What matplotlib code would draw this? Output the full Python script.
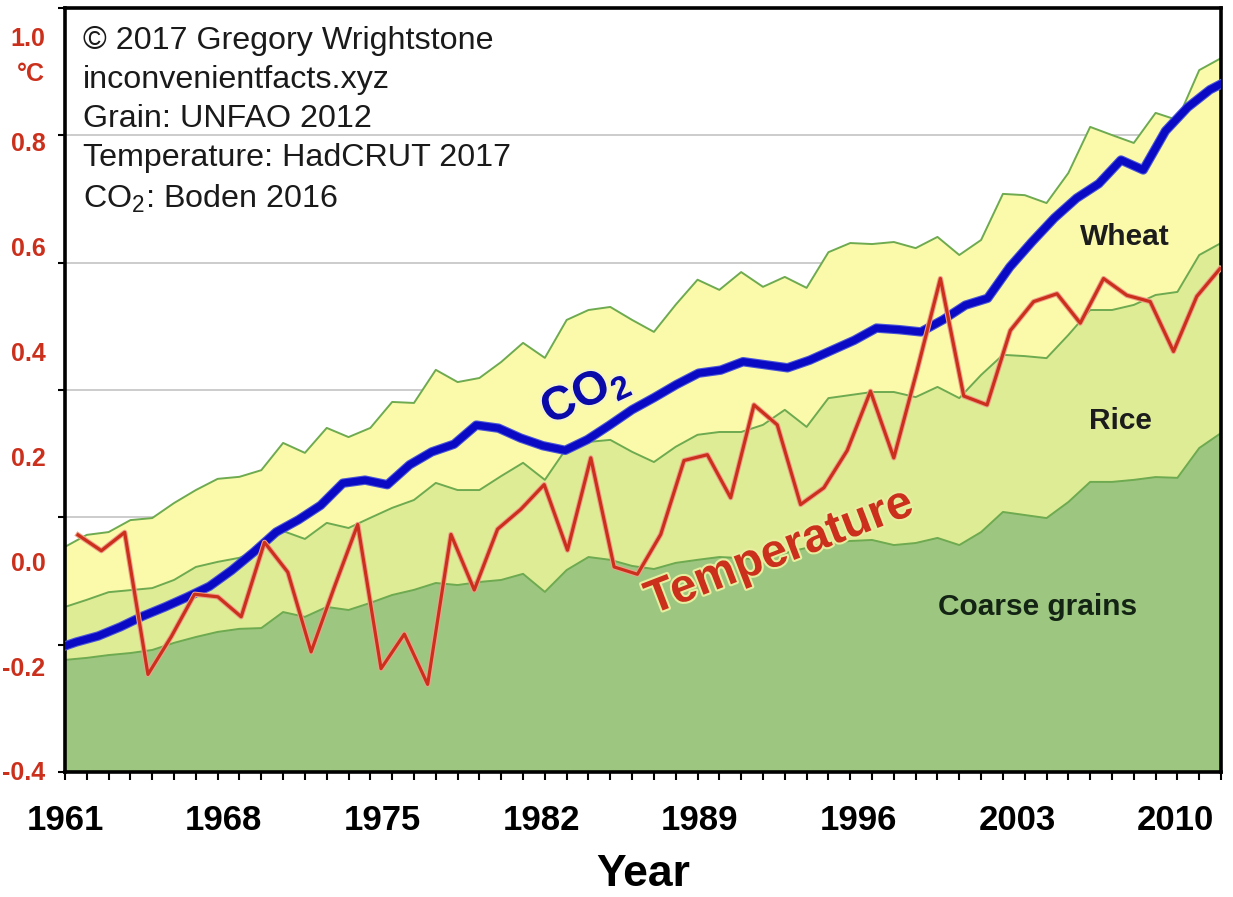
"""Grain production stacked with temperature and CO2, 1961-2012 (recreation)."""
import matplotlib

matplotlib.use("Agg")
import matplotlib.pyplot as plt
import matplotlib.patheffects as pe
from matplotlib.ticker import MultipleLocator
import numpy as np

plt.rcParams["font.family"] = ["Liberation Sans", "DejaVu Sans"]
plt.rcParams["mathtext.fontset"] = "custom"
plt.rcParams["mathtext.rm"] = "Liberation Sans"
plt.rcParams["mathtext.bf"] = "Liberation Sans:bold"

# ---- data ----
# grain production, Mt, one point per category on the tick marks
grain_years = np.arange(1961, 2015)
coarse = [440, 448, 459, 467, 479, 507, 530, 550, 562, 565,
          628, 609, 648, 636, 664, 695, 715, 742, 734, 746,
          754, 778, 707, 793, 844, 833, 809, 797, 821, 833,
          844, 840, 833, 860, 880, 899, 907, 911, 891, 899,
          919, 891, 942, 1021, 1009, 997, 1060, 1139, 1139, 1147,
          1158, 1155, 1272, 1331]
rice = [208, 228, 247, 247, 243, 247, 275, 275, 279, 314,
        318, 306, 330, 322, 334, 342, 353, 393, 373, 361,
        408, 436, 440, 479, 452, 471, 448, 420, 456, 491,
        491, 495, 530, 562, 475, 569, 573, 581, 601, 573,
        593, 577, 617, 617, 624, 628, 656, 675, 675, 687,
        715, 730, 758, 746]
wheat = [236, 255, 236, 275, 275, 302, 302, 326, 318, 306,
         346, 338, 373, 357, 353, 416, 381, 444, 424, 440,
         448, 471, 479, 503, 518, 522, 518, 511, 558, 609,
         558, 628, 542, 522, 546, 573, 597, 581, 589, 585,
         589, 562, 530, 632, 632, 609, 636, 719, 687, 636,
         715, 675, 726, 726]

# HadCRUT temperature anomaly, degC
temp_years = np.arange(1961, 2011)
temp = [0.05, 0.02, 0.055, -0.216, -0.144, -0.063, -0.068, -0.106, 0.036, -0.021,
        -0.173, -0.049, 0.070, -0.205, -0.139, -0.235, 0.051, -0.055, 0.061, 0.099,
        0.146, 0.021, 0.197, -0.011, -0.025, 0.051, 0.192, 0.203, 0.121, 0.298,
        0.260, 0.108, 0.140, 0.211, 0.324, 0.197, 0.364, 0.539, 0.315, 0.298,
        0.440, 0.495, 0.510, 0.454, 0.539, 0.507, 0.495, 0.400, 0.505, 0.558]

# CO2 emissions on an unlabelled scale
co2_years = np.arange(1960, 2014)
co2 = [2.60, 2.70, 2.78, 2.90, 3.04, 3.16, 3.29, 3.43, 3.64, 3.88,
       4.14, 4.30, 4.49, 4.78, 4.82, 4.76, 5.02, 5.19, 5.29, 5.54,
       5.50, 5.37, 5.27, 5.21, 5.35, 5.54, 5.74, 5.90, 6.07, 6.22,
       6.26, 6.37, 6.33, 6.29, 6.39, 6.52, 6.65, 6.81, 6.79, 6.76,
       6.92, 7.11, 7.20, 7.61, 7.94, 8.25, 8.51, 8.70, 9.01, 8.88,
       9.39, 9.70, 9.93, 10.08]

label_years = [1961, 1968, 1975, 1982, 1989, 1996, 2003, 2010]
temp_ticks = [1.0, 0.8, 0.6, 0.4, 0.2, 0.0, -0.2, -0.4]
temp_ticklabels = ["1.0", "0.8", "0.6", "0.4", "0.2", "0.0", "-0.2", "-0.4"]
credits = ("\u00a9 2017 Gregory Wrightstone\ninconvenientfacts.xyz\nGrain: UNFAO 2012\n"
           "Temperature: HadCRUT 2017\nCO$_\\mathrm{2}$: Boden 2016")

RED = "#cb301c"
BLUE = "#0a0ac4"
EDGE = "#6eaa50"

fig = plt.figure(figsize=(12.33, 8.97), dpi=100)
rect = [0.0527, 0.1394, 0.9376, 0.8517]

# ---- grain stack (main axes) ----
ax = fig.add_axes(rect)
ax.stackplot(grain_years, coarse, rice, wheat,
             colors=["#9dc780", "#deec96", "#fafaaa"], lw=0, zorder=2)
tops = np.cumsum([coarse, rice, wheat], axis=0)
for top in tops:
    ax.plot(grain_years, top, color=EDGE, lw=1.4, zorder=3)
ax.set_xlim(1961, 2014)
ax.set_ylim(0, 3000)
ax.set_yticks(range(0, 3001, 500))
ax.yaxis.grid(True, color="#cccccc", lw=1.4)
ax.set_axisbelow(True)
ax.xaxis.set_major_locator(MultipleLocator(1))
ax.tick_params(axis="x", labelbottom=False, direction="out", length=6, width=1.5)
ax.tick_params(axis="y", labelleft=False, direction="out", length=5, width=1.5)
for s in ax.spines.values():
    s.set_linewidth(2.6)
    s.set_color("black")
    s.set_zorder(6)

# year labels sit on their own spacing
secax = ax.secondary_xaxis(
    "bottom",
    functions=(lambda g: 1961 + (g - 1961) * 51 / 53,
               lambda l: 1961 + (l - 1961) * 53 / 51))
secax.set_xticks(label_years)
secax.tick_params(length=0, pad=23)
for lab in secax.get_xticklabels():
    lab.set_fontweight("bold")
    lab.set_fontsize(25)
secax.spines["bottom"].set_visible(False)
secax.set_xlabel("Year", fontsize=32, fontweight="bold", labelpad=12)

# ---- CO2 overlay ----
axc = fig.add_axes(rect, frameon=False)
axc.plot(co2_years, co2, color=BLUE, lw=5.2, solid_capstyle="round",
         path_effects=[pe.withStroke(linewidth=6.8, foreground="#4b55d8")])
axc.set_xlim(1960.5, 2012.5)
axc.set_ylim(1, 11)
axc.set_xticks([])
axc.set_yticks([])

# ---- temperature overlay ----
axt = fig.add_axes(rect, frameon=False)
axt.plot(temp_years, temp, color=RED, lw=2.3,
         path_effects=[pe.withStroke(linewidth=3.8, foreground="#eea08a")])
axt.set_xlim(1960.44, 2010.04)
axt.set_ylim(-0.402, 1.055)
axt.set_xticks([])
axt.set_yticks(temp_ticks)
axt.set_yticklabels(temp_ticklabels, color=RED, fontsize=18, fontweight="bold")
axt.tick_params(axis="y", length=0, pad=14)

fig.text(45 / 1233, 1 - 74 / 897, "\u00b0C", ha="right", va="center",
         color=RED, fontsize=18, fontweight="bold")

# ---- annotations ----
fig.text(83 / 1233, 1 - 26 / 897, credits, ha="left", va="top",
         fontsize=23.2, linespacing=1.39, color="#1a1a1a")
fig.text(0.9124, 0.7358, "Wheat", ha="center", va="center",
         fontsize=21.5, fontweight="bold", color="#1c1c1c")
fig.text(0.9091, 0.5307, "Rice", ha="center", va="center",
         fontsize=21.5, fontweight="bold", color="#1c1c1c")
fig.text(0.8418, 0.3233, "Coarse grains", ha="center", va="center",
         fontsize=21.5, fontweight="bold", color="#142414")
fig.text(0.4745, 0.5596, r"CO$_\mathbf{2}$", ha="center", va="center",
         rotation=25, fontsize=34, fontweight="bold", color="#0a0aa8",
         path_effects=[pe.withStroke(linewidth=3, foreground="#f4f4c8")])
fig.text(0.6326, 0.3840, "Temperature", ha="center", va="center",
         rotation=21, fontsize=34, fontweight="bold", color=RED,
         path_effects=[pe.withStroke(linewidth=3, foreground="#e8eea0")])

fig.savefig("out.png", dpi=100)
